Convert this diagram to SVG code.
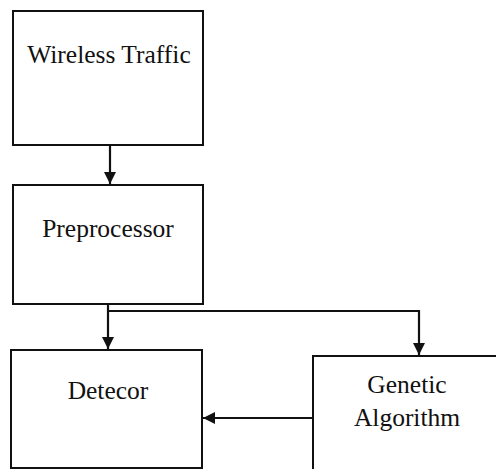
<svg xmlns="http://www.w3.org/2000/svg" width="496" height="469" viewBox="0 0 496 469">
  <defs>
    <style>
      .box { fill: #ffffff; stroke: #111111; stroke-width: 2; }
      .lbl { font-family: 'Liberation Serif', 'Times New Roman', serif; font-size: 25.5px; fill: #111111; text-anchor: middle; }
      .wire { fill: none; stroke: #111111; stroke-width: 2.2; }
    </style>
    <marker id="head" viewBox="0 0 12 12" refX="12" refY="6" markerWidth="12" markerHeight="12" markerUnits="userSpaceOnUse" orient="auto">
      <path d="M0,0 L12,6 L0,12 Z" fill="#111111"/>
    </marker>
  </defs>
  <rect width="496" height="469" fill="#ffffff"/>

  <g id="wireless-traffic">
    <rect class="box" x="13" y="11" width="190" height="134"/>
    <text class="lbl" x="109" y="63">Wireless Traffic</text>
  </g>

  <g id="preprocessor">
    <rect class="box" x="13" y="185" width="190" height="119"/>
    <text class="lbl" x="108" y="237">Preprocessor</text>
  </g>

  <g id="detecor">
    <rect class="box" x="11" y="350" width="191" height="118"/>
    <text class="lbl" x="108" y="399">Detecor</text>
  </g>

  <g id="genetic-algorithm">
    <rect class="box" x="313" y="356" width="200" height="130"/>
    <text class="lbl" x="407" y="393">Genetic</text>
    <text class="lbl" x="407" y="426">Algorithm</text>
  </g>

  <g id="connectors">
    <path class="wire" d="M110,145 V184" marker-end="url(#head)"/>
    <path class="wire" d="M108,304 V349" marker-end="url(#head)"/>
    <path class="wire" d="M108,311 H419 V355" marker-end="url(#head)"/>
    <path class="wire" d="M313,418 H203" marker-end="url(#head)"/>
  </g>
</svg>
